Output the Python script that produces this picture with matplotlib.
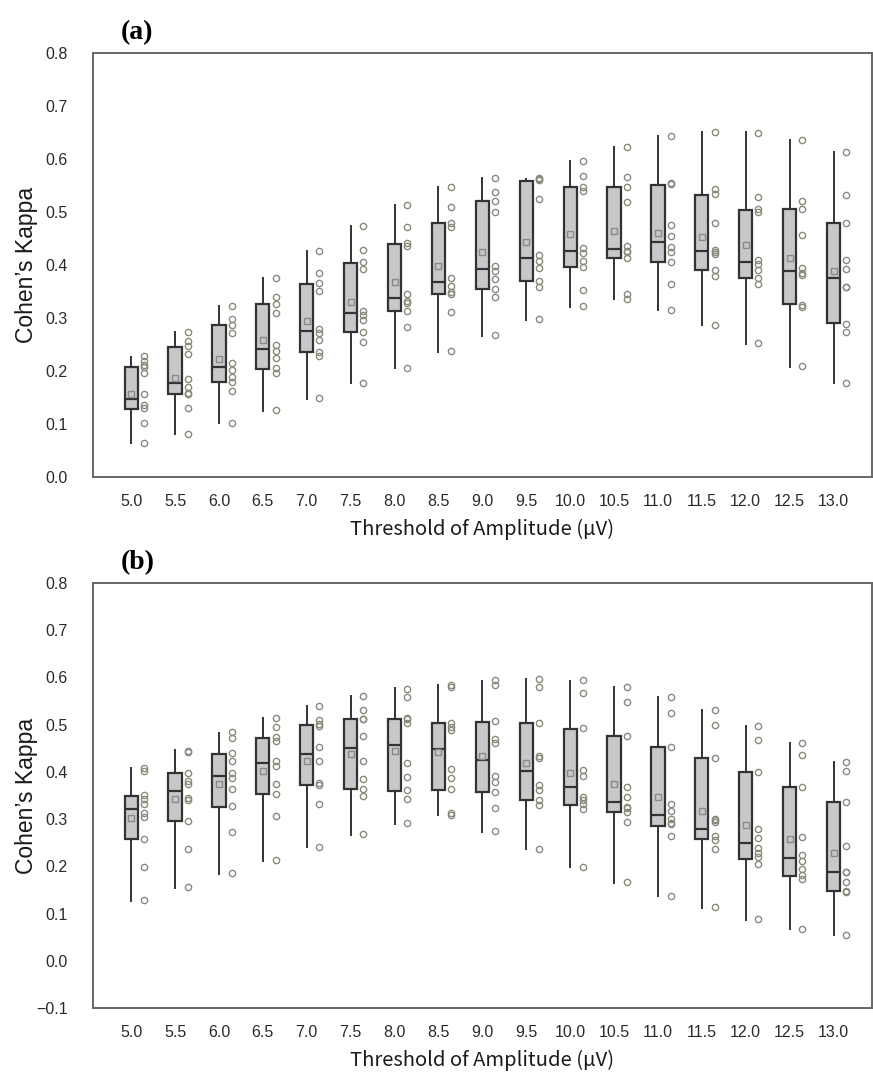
import matplotlib
matplotlib.use('Agg')
import matplotlib.pyplot as plt

plt.rcParams['font.family'] = ['Liberation Sans', 'DejaVu Sans']

thresholds = ['5.0', '5.5', '6.0', '6.5', '7.0', '7.5', '8.0', '8.5', '9.0',
              '9.5', '10.0', '10.5', '11.0', '11.5', '12.0', '12.5', '13.0']

# panel (a): min, q1, median, q3, max, mean per threshold
a_min = [0.064, 0.081, 0.101, 0.125, 0.148, 0.177, 0.205, 0.236, 0.267, 0.296, 0.321, 0.336, 0.315, 0.286, 0.251, 0.208, 0.177]
a_q1 = [0.128, 0.156, 0.179, 0.203, 0.235, 0.273, 0.313, 0.345, 0.354, 0.369, 0.396, 0.413, 0.406, 0.390, 0.376, 0.326, 0.290]
a_med = [0.147, 0.177, 0.208, 0.242, 0.275, 0.309, 0.338, 0.368, 0.392, 0.413, 0.426, 0.430, 0.443, 0.426, 0.406, 0.389, 0.375]
a_q3 = [0.207, 0.246, 0.286, 0.326, 0.365, 0.404, 0.440, 0.479, 0.521, 0.558, 0.547, 0.548, 0.550, 0.532, 0.504, 0.506, 0.479]
a_max = [0.227, 0.274, 0.323, 0.376, 0.427, 0.474, 0.514, 0.547, 0.564, 0.562, 0.596, 0.623, 0.643, 0.650, 0.650, 0.636, 0.614]
a_mean = [0.157, 0.187, 0.223, 0.258, 0.295, 0.331, 0.367, 0.398, 0.425, 0.444, 0.458, 0.464, 0.461, 0.453, 0.437, 0.414, 0.389]

a_points = [
    [0.228, 0.219, 0.212, 0.197, 0.156, 0.136, 0.130, 0.101, 0.065, 0.208],
    [0.274, 0.257, 0.247, 0.233, 0.185, 0.169, 0.159, 0.156, 0.130, 0.082],
    [0.323, 0.298, 0.286, 0.271, 0.216, 0.202, 0.189, 0.180, 0.162, 0.102],
    [0.376, 0.340, 0.326, 0.310, 0.249, 0.238, 0.225, 0.205, 0.197, 0.126],
    [0.427, 0.384, 0.366, 0.351, 0.280, 0.272, 0.259, 0.236, 0.229, 0.150],
    [0.474, 0.428, 0.405, 0.392, 0.314, 0.305, 0.296, 0.273, 0.255, 0.178],
    [0.514, 0.472, 0.441, 0.435, 0.346, 0.332, 0.329, 0.313, 0.283, 0.206],
    [0.547, 0.509, 0.480, 0.472, 0.375, 0.361, 0.350, 0.346, 0.311, 0.238],
    [0.564, 0.538, 0.521, 0.500, 0.399, 0.389, 0.373, 0.355, 0.340, 0.268],
    [0.563, 0.561, 0.565, 0.524, 0.418, 0.408, 0.394, 0.370, 0.358, 0.298],
    [0.596, 0.567, 0.547, 0.540, 0.432, 0.422, 0.407, 0.396, 0.353, 0.323],
    [0.623, 0.566, 0.548, 0.518, 0.436, 0.426, 0.424, 0.413, 0.346, 0.336],
    [0.643, 0.554, 0.552, 0.476, 0.454, 0.434, 0.424, 0.406, 0.364, 0.315],
    [0.650, 0.543, 0.534, 0.480, 0.428, 0.421, 0.425, 0.391, 0.380, 0.287],
    [0.649, 0.529, 0.505, 0.500, 0.410, 0.401, 0.391, 0.376, 0.364, 0.253],
    [0.636, 0.520, 0.506, 0.456, 0.395, 0.385, 0.381, 0.324, 0.321, 0.210],
    [0.614, 0.532, 0.480, 0.409, 0.392, 0.359, 0.358, 0.289, 0.274, 0.177],
]

# panel (b)
b_min = [0.126, 0.155, 0.183, 0.212, 0.240, 0.267, 0.289, 0.308, 0.273, 0.236, 0.198, 0.164, 0.137, 0.111, 0.087, 0.067, 0.054]
b_q1 = [0.258, 0.296, 0.326, 0.354, 0.373, 0.363, 0.360, 0.361, 0.357, 0.340, 0.329, 0.314, 0.285, 0.257, 0.216, 0.179, 0.147]
b_med = [0.321, 0.359, 0.392, 0.418, 0.437, 0.450, 0.456, 0.448, 0.425, 0.402, 0.368, 0.337, 0.308, 0.279, 0.249, 0.218, 0.188]
b_q3 = [0.349, 0.397, 0.438, 0.472, 0.499, 0.511, 0.511, 0.503, 0.506, 0.504, 0.490, 0.476, 0.453, 0.429, 0.399, 0.367, 0.337]
b_max = [0.409, 0.446, 0.483, 0.515, 0.539, 0.561, 0.577, 0.583, 0.593, 0.597, 0.593, 0.580, 0.559, 0.532, 0.498, 0.462, 0.421]
b_mean = [0.303, 0.342, 0.374, 0.402, 0.424, 0.438, 0.445, 0.442, 0.434, 0.419, 0.397, 0.374, 0.346, 0.318, 0.287, 0.258, 0.229]

b_points = [
    [0.409, 0.402, 0.351, 0.342, 0.333, 0.312, 0.305, 0.258, 0.198, 0.128],
    [0.444, 0.443, 0.397, 0.381, 0.374, 0.345, 0.340, 0.296, 0.236, 0.157],
    [0.484, 0.471, 0.439, 0.424, 0.398, 0.386, 0.363, 0.328, 0.272, 0.185],
    [0.514, 0.494, 0.474, 0.465, 0.424, 0.413, 0.374, 0.354, 0.306, 0.213],
    [0.539, 0.510, 0.501, 0.497, 0.452, 0.422, 0.376, 0.372, 0.332, 0.241],
    [0.561, 0.531, 0.512, 0.511, 0.476, 0.422, 0.385, 0.364, 0.349, 0.268],
    [0.576, 0.558, 0.511, 0.504, 0.515, 0.418, 0.390, 0.361, 0.343, 0.291],
    [0.583, 0.579, 0.503, 0.496, 0.489, 0.407, 0.387, 0.363, 0.312, 0.309],
    [0.594, 0.583, 0.508, 0.469, 0.462, 0.391, 0.378, 0.357, 0.323, 0.275],
    [0.597, 0.579, 0.504, 0.434, 0.430, 0.372, 0.361, 0.340, 0.329, 0.237],
    [0.594, 0.566, 0.492, 0.404, 0.391, 0.347, 0.340, 0.332, 0.321, 0.198],
    [0.580, 0.548, 0.476, 0.368, 0.346, 0.326, 0.324, 0.315, 0.294, 0.166],
    [0.559, 0.525, 0.453, 0.332, 0.318, 0.301, 0.291, 0.289, 0.264, 0.138],
    [0.532, 0.499, 0.429, 0.301, 0.298, 0.294, 0.264, 0.256, 0.236, 0.113],
    [0.498, 0.467, 0.400, 0.280, 0.259, 0.239, 0.229, 0.219, 0.204, 0.089],
    [0.462, 0.436, 0.368, 0.263, 0.224, 0.211, 0.195, 0.182, 0.174, 0.068],
    [0.421, 0.402, 0.337, 0.243, 0.189, 0.187, 0.167, 0.148, 0.145, 0.055],
]


def draw_panel(ax, mins, q1s, meds, q3s, maxs, means, points, ylim, yticks, tag):
    pos = list(range(len(thresholds)))
    stats = []
    for i in pos:
        stats.append({'whislo': mins[i], 'q1': q1s[i], 'med': meds[i], 'q3': q3s[i],
                      'whishi': maxs[i], 'mean': means[i], 'fliers': []})
    ax.bxp(stats, positions=pos, widths=0.3, showcaps=False, showmeans=True,
           patch_artist=True, showfliers=False,
           boxprops=dict(facecolor='#c8c8c8', edgecolor='#333333', linewidth=1.6),
           medianprops=dict(color='#333333', linewidth=1.6),
           whiskerprops=dict(color='#333333', linewidth=1.4),
           meanprops=dict(marker='s', markersize=4.5, markerfacecolor='none',
                          markeredgecolor='#8a8a8a', markeredgewidth=1.0))
    for i in pos:
        ax.plot([i + 0.29] * len(points[i]), points[i], 'o', ms=4.5,
                mfc='none', mec='#8a8a7c', mew=1.0)
    ax.set_xlim(-0.87, len(pos) - 1 + 0.87)
    ax.set_ylim(*ylim)
    ax.set_yticks(yticks)
    ax.set_yticklabels([('%.1f' % t).replace('-', '\u2212') for t in yticks])
    ax.set_xticks(pos)
    ax.set_xticklabels(thresholds)
    ax.tick_params(length=0, labelsize=11.5, colors='#2a2a2a')
    ax.tick_params(axis='y', pad=18)
    ax.tick_params(axis='x', pad=12)
    for s in ax.spines.values():
        s.set_color('#666666')
        s.set_linewidth(1.4)
    ax.set_xlabel('Threshold of Amplitude (μV)', fontsize=14.5, color='#1a1a1a',
                  family=['Noto Sans CJK JP', 'DejaVu Sans'], labelpad=7)
    ax.set_ylabel('Cohen’s Kappa', fontsize=16.5, color='#1a1a1a')
    ax.yaxis.set_label_coords(-0.071, 0.5)
    ax.text(0.057, 1.048, tag, transform=ax.transAxes, fontsize=20, fontweight='bold',
            family='Liberation Serif', ha='center', va='center')


fig = plt.figure(figsize=(8.73, 10.72), dpi=100)
ax1 = fig.add_axes([0.1065, 0.555, 0.892, 0.3956])
ax2 = fig.add_axes([0.1065, 0.0597, 0.892, 0.3965])

draw_panel(ax1, a_min, a_q1, a_med, a_q3, a_max, a_mean, a_points,
           (0.0, 0.8), [0.0, 0.1, 0.2, 0.3, 0.4, 0.5, 0.6, 0.7, 0.8], '(a)')
draw_panel(ax2, b_min, b_q1, b_med, b_q3, b_max, b_mean, b_points,
           (-0.1, 0.8), [-0.1, 0.0, 0.1, 0.2, 0.3, 0.4, 0.5, 0.6, 0.7, 0.8], '(b)')

fig.savefig('out.png', dpi=100)
